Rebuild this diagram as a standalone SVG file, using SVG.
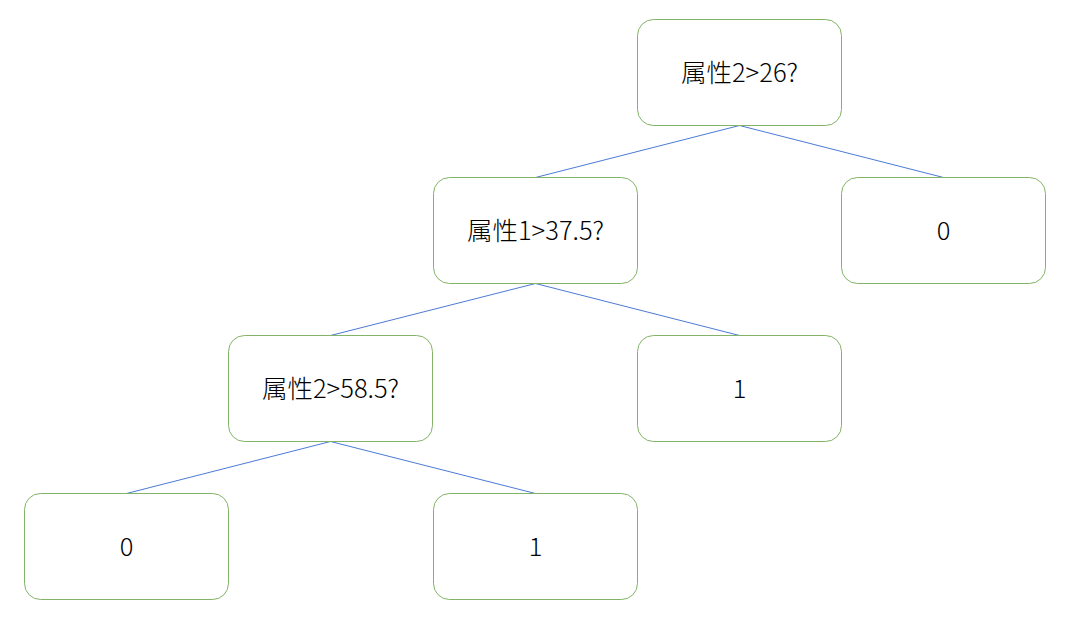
<svg xmlns="http://www.w3.org/2000/svg" width="1076" height="619" viewBox="0 0 1076 619">
<style>
.n rect{fill:#fff;stroke:#82b366;stroke-width:1}
.n text{font-family:"Noto Sans CJK SC","Noto Sans",sans-serif;font-size:25.5px;font-weight:300;fill:#000;text-anchor:middle;dominant-baseline:central}
.e line{stroke:#4a7bd6;stroke-width:1}
</style>
<rect width="1076" height="619" fill="#fff"/>
<g id="edges" class="e">
<line x1="739.5" y1="125.5" x2="535.5" y2="177.5"/>
<line x1="739.5" y1="125.5" x2="943.5" y2="177.5"/>
<line x1="535.5" y1="283.5" x2="330.5" y2="335.5"/>
<line x1="535.5" y1="283.5" x2="739.5" y2="335.5"/>
<line x1="330.5" y1="441.5" x2="126.5" y2="493.5"/>
<line x1="330.5" y1="441.5" x2="535.5" y2="493.5"/>
</g>
<g id="n1" class="n"><rect x="637.5" y="19.5" width="204" height="106" rx="16"/><text x="739.5" y="70">属性2&gt;26?</text></g>
<g id="n2" class="n"><rect x="433.5" y="177.5" width="204" height="106" rx="16"/><text x="535.5" y="228">属性1&gt;37.5?</text></g>
<g id="n3" class="n"><rect x="841.5" y="177.5" width="204" height="106" rx="16"/><text x="943.5" y="228">0</text></g>
<g id="n4" class="n"><rect x="228.5" y="335.5" width="204" height="106" rx="16"/><text x="330.5" y="386">属性2&gt;58.5?</text></g>
<g id="n5" class="n"><rect x="637.5" y="335.5" width="204" height="106" rx="16"/><text x="739.5" y="386">1</text></g>
<g id="n6" class="n"><rect x="24.5" y="493.5" width="204" height="106" rx="16"/><text x="126.5" y="544">0</text></g>
<g id="n7" class="n"><rect x="433.5" y="493.5" width="204" height="106" rx="16"/><text x="535.5" y="544">1</text></g>
</svg>
